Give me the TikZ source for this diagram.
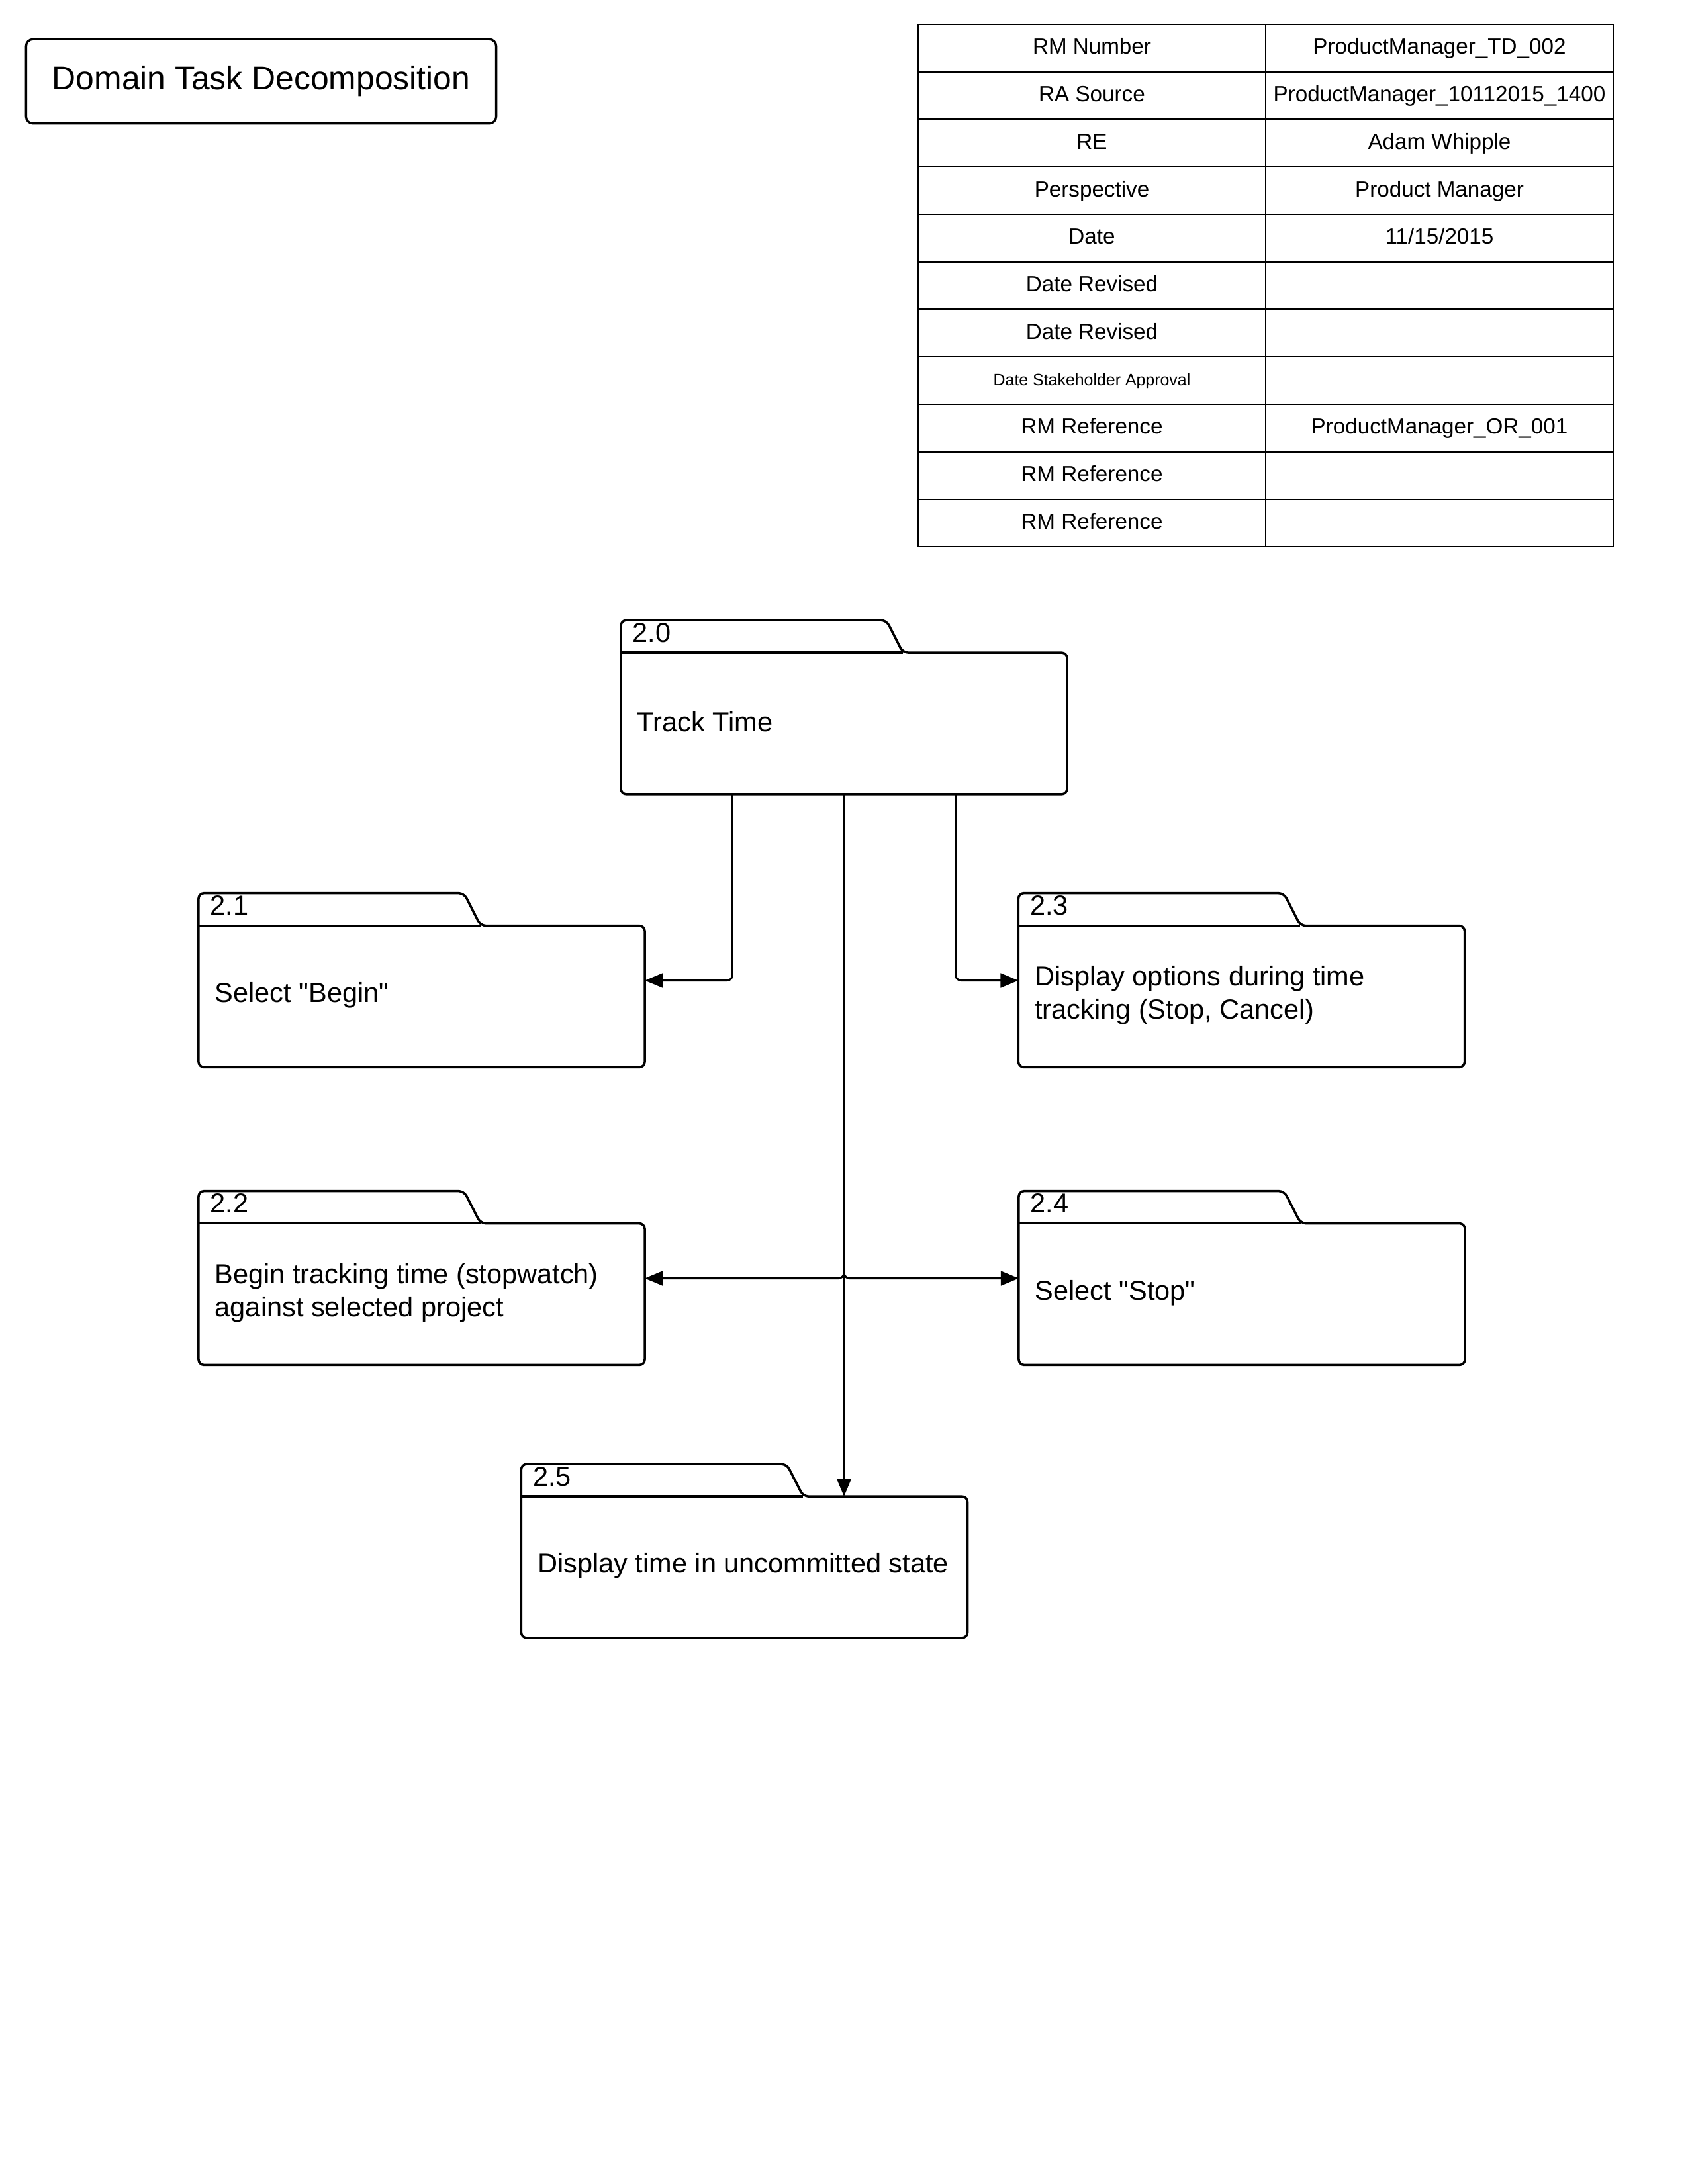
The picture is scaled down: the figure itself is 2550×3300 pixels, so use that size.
\documentclass[tikz,border=0pt]{standalone}
\usepackage{fontspec}
\setmainfont{Liberation Sans}[Ligatures=TeXOff]
\usetikzlibrary{arrows.meta,calc}

% one unit = one pixel at 300 dpi, y grows downwards
\newcommand\taskbox[5]{%
  \node[taskbody] (#1) at (#2,#3) {};
  \draw[folderline] (#1.north east) -- (#1.south east) -- (#1.south west)
    -- ($(#1.north west)+(0,-49)$) -- ($(#1.north west)+(401,-49)$)
    -- ($(#1.north west)+(426,0)$) -- cycle;
  \draw[folderline] (#1.north west) -- ($(#1.north west)+(426,0)$);
  \node[tasknum, anchor=base west] (#1-num) at ($(#1.north west)+(17,-16)$) {#4};
  \node[tasktext, anchor=west] (#1-text) at ($(#1.west)+(24,-2)$) {#5};
}

\begin{document}
\begin{tikzpicture}[x=0.084667mm, y=-0.084667mm,
  folderline/.style={line width=0.85pt, rounded corners=2pt, line join=round},
  taskbody/.style={minimum width=162pt, minimum height=51.1pt, inner sep=0pt},
  tasknum/.style={inner sep=0pt, font=\fontsize{10pt}{12pt}\selectfont},
  tasktext/.style={inner sep=0pt, align=left, font=\fontsize{10pt}{12pt}\selectfont},
  conn/.style={line width=0.72pt, rounded corners=2pt, -{Triangle[length=6.5pt,width=5.2pt]}},
  titlebox/.style={draw, line width=0.8pt, rounded corners=2.5pt, minimum width=171.1pt,
    minimum height=30.7pt, inner sep=0pt, font=\fontsize{12pt}{14pt}\selectfont},
  celltext/.style={inner sep=0pt, anchor=base, font=\fontsize{8pt}{9.6pt}\selectfont},
  thingrid/.style={line width=0.35pt},
  thickgrid/.style={line width=0.6pt}]

\useasboundingbox (0,0) rectangle (2550,3300);

% title
\node[titlebox] (title) at (394.5,123) {Domain Task Decomposition};

% header table
\foreach \i in {1,...,9}
  \draw[thickgrid] (1387,{37+71.73*\i}) -- (2437,{37+71.73*\i});
\draw[thingrid] (1387,{37+71.73*10}) -- (2437,{37+71.73*10});
\draw[thingrid] (1387,37) rectangle (2437,826);
\draw[thingrid] (1912,37) -- (1912,826);
\foreach \i/\a/\b in {0/{RM Number}/{ProductManager\_TD\_002},
                      1/{RA Source}/{ProductManager\_10112015\_1400},
                      2/{RE}/{Adam Whipple},
                      3/{Perspective}/{Product Manager},
                      4/{Date}/{11/15/2015},
                      5/{Date Revised}/{},
                      6/{Date Revised}/{},
                      8/{RM Reference}/{ProductManager\_OR\_001},
                      9/{RM Reference}/{},
                      10/{RM Reference}/{}} {
  \node[celltext] (cell-\i-a) at (1649.5,{37+71.73*\i+35.9+9}) {\a};
  \node[celltext] (cell-\i-b) at (2174.5,{37+71.73*\i+35.9+9}) {\b};
}
\node[celltext, font=\fontsize{6pt}{7pt}\selectfont] (cell-7-a)
  at (1649.5,{37+71.73*7+35.9+7}) {Date Stakeholder Approval};

% tasks
\taskbox{t20}{1275}{1093}{2.0}{Track Time}
\taskbox{t21}{637}{1505.5}{2.1}{Select "Begin"}
\taskbox{t23}{1875.5}{1505.5}{2.3}{Display options during time\\tracking (Stop, Cancel)}
\taskbox{t22}{637}{1955.5}{2.2}{Begin tracking time (stopwatch)\\against selected project}
\taskbox{t24}{1876}{1955.5}{2.4}{Select "Stop"}
\taskbox{t25}{1124.5}{2368}{2.5}{Display time in uncommitted state}

% connectors
\draw[conn] ($(t20.south west)!0.25!(t20.south east)$) |- ($(t21.east)+(0,-24)$);
\draw[conn] ($(t20.south west)!0.75!(t20.south east)$) |- ($(t23.west)+(0,-24)$);
\draw[conn] (t20.south) |- ($(t22.east)+(0,-24)$);
\draw[conn] (t20.south) |- ($(t24.west)+(0,-24)$);
\draw[conn] (t20.south) -- (t20.south |- t25.north);

\end{tikzpicture}
\end{document}
